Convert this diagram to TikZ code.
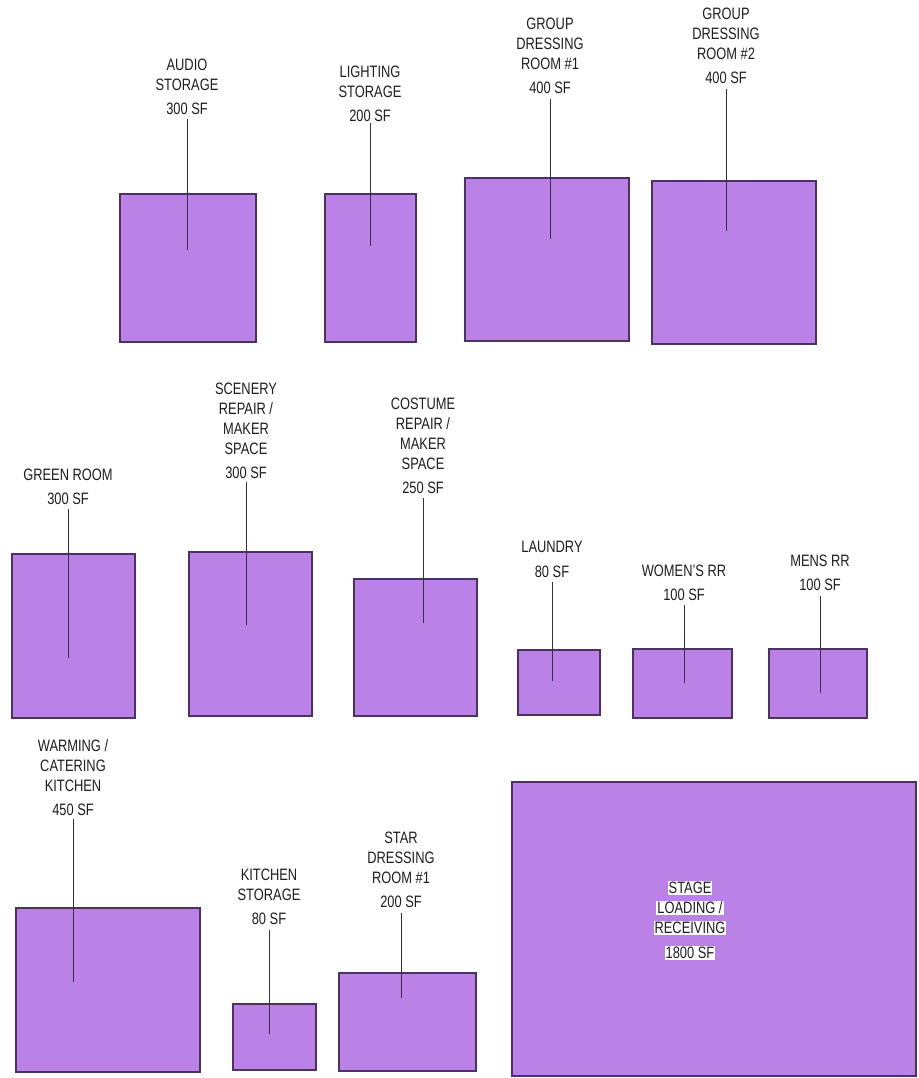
\documentclass[tikz,border=0pt]{standalone}
\usepackage{fontspec}
\setmainfont{Liberation Sans}[FakeStretch=0.78]
\definecolor{roomfill}{HTML}{BA82E6}
\definecolor{roomedge}{HTML}{4A3263}
\definecolor{leader}{HTML}{3A2C48}
\definecolor{ink}{HTML}{1E1E1E}
\tikzset{
  room/.style={draw=roomedge, fill=roomfill, line width=1.3pt, inner sep=0pt, outer sep=0pt, rectangle},
  lbl/.style={align=center, inner sep=0pt, text=ink, anchor=north, font=\fontsize{16.5}{20}\selectfont},
  stagelbl/.style={fill=white, inner sep=1pt, text=ink, font=\fontsize{16.5}{20}\selectfont},
  leaderline/.style={draw=leader, line width=1pt}
}
\newcommand\roombox[5]{\node[room, minimum width={#4-#2}, minimum height={#5-#3}] (#1) at ({(#2+#4)/2},{(#3+#5)/2}) {};}
\begin{document}
\begin{tikzpicture}[x=1pt,y=-1pt]
\path[fill=white, use as bounding box] (0,0) rectangle (918,1078);

% rooms
\roombox{audio}{120}{194}{256}{342}
\roombox{light}{325}{194}{416}{342}
\roombox{gdr1}{465}{178}{629}{341}
\roombox{gdr2}{652}{181}{816}{344}
\roombox{green}{12}{554}{135}{718}
\roombox{scen}{189}{552}{312}{716}
\roombox{cost}{354}{579}{477}{716}
\roombox{laund}{518}{650}{600}{715}
\roombox{wrr}{633}{649}{732}{718}
\roombox{mrr}{769}{649}{867}{718}
\roombox{warm}{16}{908}{200}{1072}
\roombox{kstor}{233}{1004}{316}{1070}
\roombox{star}{339}{973}{476}{1071}
\roombox{stage}{512}{782}{916}{1076}

% labels
\node[lbl] (taudio) at (187,59) {AUDIO\\STORAGE\\[3.5pt]300 SF};
\node[lbl] (tlight) at (370,66) {LIGHTING\\STORAGE\\[3.5pt]200 SF};
\node[lbl] (tgdr1) at (550,18) {GROUP\\DRESSING\\ROOM \#1\\[3.5pt]400 SF};
\node[lbl] (tgdr2) at (726,8) {GROUP\\DRESSING\\ROOM \#2\\[3.5pt]400 SF};
\node[lbl] (tgreen) at (68,469) {GREEN ROOM\\[3.5pt]300 SF};
\node[lbl] (tscen) at (246,383) {SCENERY\\REPAIR /\\MAKER\\SPACE\\[3.5pt]300 SF};
\node[lbl] (tcost) at (423,398) {COSTUME\\REPAIR /\\MAKER\\SPACE\\[3.5pt]250 SF};
\node[lbl] (tlaund) at (552,541) {LAUNDRY\\[5pt]80 SF};
\node[lbl] (twrr) at (684,565) {WOMEN'S RR\\[4pt]100 SF};
\node[lbl] (tmrr) at (820,555) {MENS RR\\[4pt]100 SF};
\node[lbl] (twarm) at (73,739) {WARMING /\\CATERING\\KITCHEN\\[4pt]450 SF};
\node[lbl] (tkstor) at (269,869) {KITCHEN\\STORAGE\\[3.5pt]80 SF};
\node[lbl] (tstar) at (401,832) {STAR\\DRESSING\\ROOM \#1\\[3.5pt]200 SF};

% stage label lines
\node[stagelbl] (st1) at (690,888) {STAGE};
\node[stagelbl] (st2) at (690,908) {LOADING /};
\node[stagelbl] (st3) at (690,928) {RECEIVING};
\node[stagelbl] (st4) at (690,953) {1800 SF};

% leader line ends
\coordinate (a1) at (187,119); \coordinate (a2) at (187,250);
\coordinate (b1) at (370,123); \coordinate (b2) at (370,246);
\coordinate (c1) at (550,99);  \coordinate (c2) at (550,239);
\coordinate (d1) at (726,89);  \coordinate (d2) at (726,231);
\coordinate (e1) at (68,509);  \coordinate (e2) at (68,658);
\coordinate (f1) at (246,482); \coordinate (f2) at (246,625);
\coordinate (g1) at (423,498); \coordinate (g2) at (423,623);
\coordinate (h1) at (552,582); \coordinate (h2) at (552,681);
\coordinate (i1) at (684,605); \coordinate (i2) at (684,683);
\coordinate (j1) at (820,596); \coordinate (j2) at (820,693);
\coordinate (k1) at (73,819);  \coordinate (k2) at (73,982);
\coordinate (l1) at (269,930); \coordinate (l2) at (269,1034);
\coordinate (m1) at (401,913); \coordinate (m2) at (401,998);

\foreach \p in {a,b,c,d,e,f,g,h,i,j,k,l,m}
  \draw[leaderline] (\p1) -- (\p2);
\end{tikzpicture}
\end{document}
